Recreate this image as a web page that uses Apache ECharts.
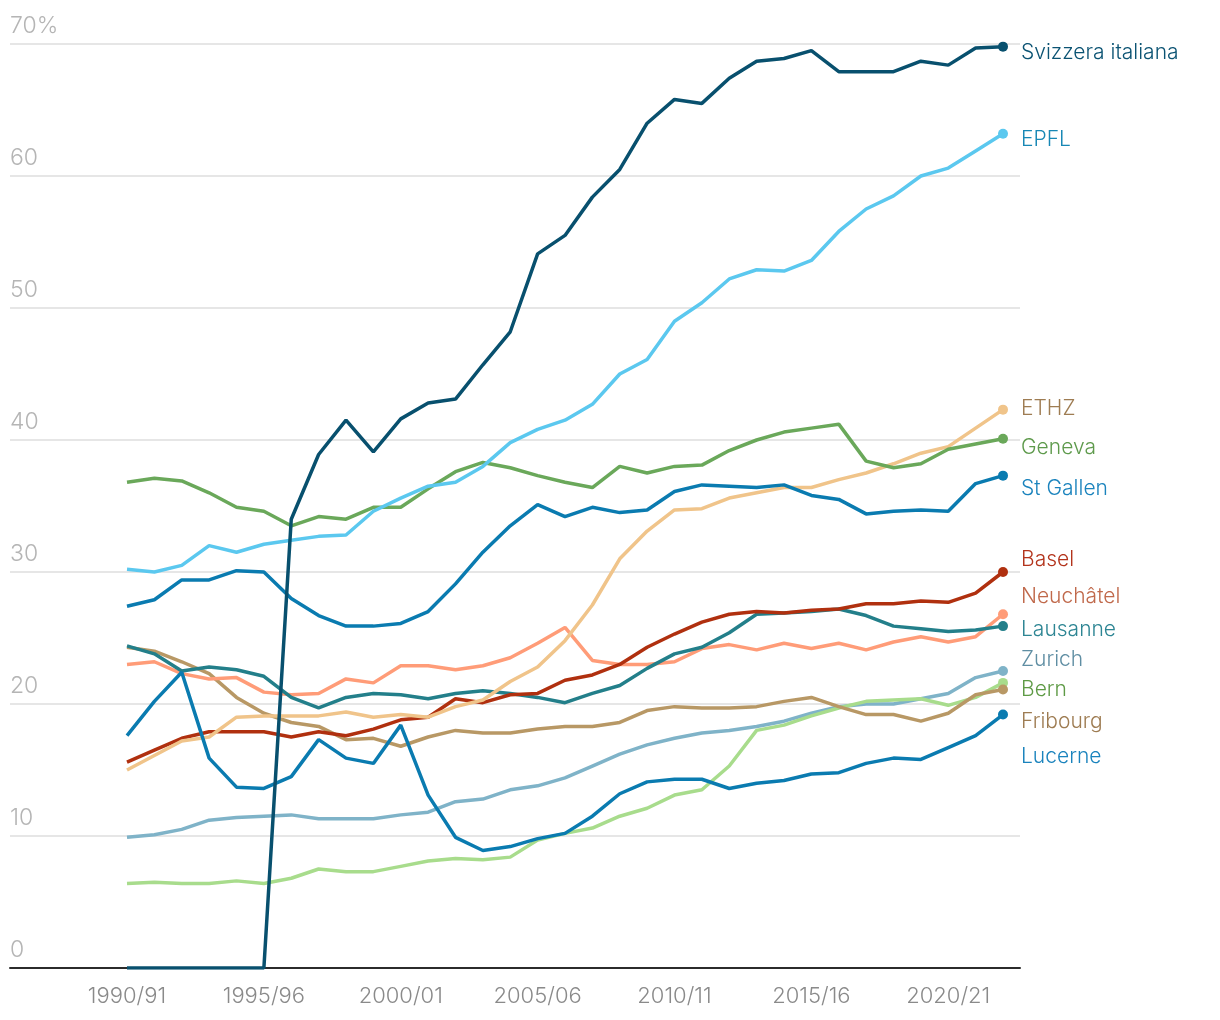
<!DOCTYPE html>
<html><head><meta charset="utf-8">
<script src="https://cdn.jsdelivr.net/npm/echarts@6/dist/echarts.min.js"></script>
<style>html,body{margin:0;padding:0;background:#fff}#c{width:1220px;height:1020px}</style>
</head><body><div id="c"></div>
<script>
const years = [];
for (let y = 1990; y <= 2022; y++) years.push(y);
const xTickYears = [1990, 1995, 2000, 2005, 2010, 2015, 2020];
const yTicks = [0, 10, 20, 30, 40, 50, 60, 70];

const svizzera = [0,0,0,0,0,0,34.0,38.9,41.5,39.1,41.6,42.8,43.1,45.7,48.2,54.1,55.5,58.4,60.5,64.0,65.8,65.5,67.4,68.7,68.9,69.5,67.9,67.9,67.9,68.7,68.4,69.7,69.8];
const epfl = [30.2,30.0,30.5,32.0,31.5,32.1,32.4,32.7,32.8,34.6,35.6,36.5,36.8,38.0,39.8,40.8,41.5,42.7,45.0,46.1,49.0,50.4,52.2,52.9,52.8,53.6,55.8,57.5,58.5,60.0,60.6,61.9,63.2];
const ethz = [15.0,16.1,17.2,17.5,19.0,19.1,19.1,19.1,19.4,19.0,19.2,19.0,19.8,20.3,21.7,22.8,24.8,27.5,31.0,33.1,34.7,34.8,35.6,36.0,36.4,36.4,37.0,37.5,38.2,39.0,39.5,40.9,42.3];
const geneva = [36.8,37.1,36.9,36.0,34.9,34.6,33.5,34.2,34.0,34.9,34.9,36.3,37.6,38.3,37.9,37.3,36.8,36.4,38.0,37.5,38.0,38.1,39.2,40.0,40.6,40.9,41.2,38.4,37.9,38.2,39.3,39.7,40.1];
const stGallen = [27.4,27.9,29.4,29.4,30.1,30.0,28.0,26.7,25.9,25.9,26.1,27.0,29.1,31.5,33.5,35.1,34.2,34.9,34.5,34.7,36.1,36.6,36.5,36.4,36.6,35.8,35.5,34.4,34.6,34.7,34.6,36.7,37.3];
const basel = [15.6,16.5,17.4,17.9,17.9,17.9,17.5,17.9,17.6,18.1,18.8,19.0,20.4,20.1,20.7,20.8,21.8,22.2,23.0,24.3,25.3,26.2,26.8,27.0,26.9,27.1,27.2,27.6,27.6,27.8,27.7,28.4,30.0];
const neuchatel = [23.0,23.2,22.3,21.9,22.0,20.9,20.7,20.8,21.9,21.6,22.9,22.9,22.6,22.9,23.5,24.6,25.8,23.3,23.0,23.0,23.2,24.2,24.5,24.1,24.6,24.2,24.6,24.1,24.7,25.1,24.7,25.1,26.8];
const lausanne = [24.4,23.8,22.5,22.8,22.6,22.1,20.5,19.7,20.5,20.8,20.7,20.4,20.8,21.0,20.8,20.5,20.1,20.8,21.4,22.7,23.8,24.3,25.4,26.8,26.9,27.0,27.2,26.7,25.9,25.7,25.5,25.6,25.9];
const zurich = [9.9,10.1,10.5,11.2,11.4,11.5,11.6,11.3,11.3,11.3,11.6,11.8,12.6,12.8,13.5,13.8,14.4,15.3,16.2,16.9,17.4,17.8,18.0,18.3,18.7,19.3,19.8,20.0,20.0,20.4,20.8,22.0,22.5];
const bern = [6.4,6.5,6.4,6.4,6.6,6.4,6.8,7.5,7.3,7.3,7.7,8.1,8.3,8.2,8.4,9.7,10.2,10.6,11.5,12.1,13.1,13.5,15.3,18.0,18.4,19.1,19.7,20.2,20.3,20.4,19.9,20.5,21.6];
const fribourg = [24.3,24.0,23.2,22.3,20.5,19.3,18.6,18.3,17.3,17.4,16.8,17.5,18.0,17.8,17.8,18.1,18.3,18.3,18.6,19.5,19.8,19.7,19.7,19.8,20.2,20.5,19.8,19.2,19.2,18.7,19.3,20.7,21.1];
const lucerne = [17.6,20.2,22.4,15.9,13.7,13.6,14.5,17.3,15.9,15.5,18.4,13.1,9.9,8.9,9.2,9.8,10.2,11.5,13.2,14.1,14.3,14.3,13.6,14.0,14.2,14.7,14.8,15.5,15.9,15.8,16.7,17.6,19.2];

const seriesDefs = [
  {name:'Zurich', data:zurich, color:'#7fb3c8', text:'#5f8ea3', dy:-11},
  {name:'Bern', data:bern, color:'#a8dc8c', text:'#5e9a45', dy:7},
  {name:'Fribourg', data:fribourg, color:'#b89865', text:'#9e7c52', dy:32},
  {name:'Neuchâtel', data:neuchatel, color:'#ff9c78', text:'#c0694b', dy:-18},
  {name:'Lausanne', data:lausanne, color:'#237f8a', text:'#2d8593', dy:4},
  {name:'Basel', data:basel, color:'#b0300f', text:'#b3341c', dy:-12},
  {name:'ETHZ', data:ethz, color:'#f0c48a', text:'#9e7c52', dy:-1},
  {name:'Geneva', data:geneva, color:'#6aa85a', text:'#5e9a4c', dy:9},
  {name:'St Gallen', data:stGallen, color:'#0a7bb0', text:'#1a83bd', dy:13},
  {name:'Lucerne', data:lucerne, color:'#0a7bb0', text:'#1a83bd', dy:42},
  {name:'EPFL', data:epfl, color:'#5bc8ef', text:'#1787b5', dy:6},
  {name:'Svizzera italiana', data:svizzera, color:'#08506e', text:'#0b5373', dy:6}
];

const FONT = 'Inter, "Noto Sans", sans-serif';
const chart = echarts.init(document.getElementById('c'), null, {renderer:'canvas'});
chart.setOption({
  animation: false,
  backgroundColor: '#fff',
  grid: {left: 10, right: 200, top: 44, bottom: 52, containLabel: false},
  xAxis: {
    type: 'value',
    min: 1985.726, max: 2022.621,
    splitLine: {show: false},
    axisTick: {show: false},
    axisLine: {show: true, onZero: false, lineStyle: {color: '#2b2b2b', width: 2}},
    axisLabel: {
      customValues: xTickYears,
      margin: 17,
      color: '#8a8a8a', fontSize: 22, fontFamily: FONT, fontWeight: 300,
      formatter: v => v + '/' + String((v + 1) % 100).padStart(2, '0')
    }
  },
  yAxis: {
    type: 'value', min: 0, max: 70, interval: 10,
    axisLine: {show: false}, axisTick: {show: false},
    splitLine: {show: true, lineStyle: {color: '#e6e6e6', width: 2}},
    axisLabel: {
      inside: true, margin: 0, align: 'left', verticalAlign: 'bottom',
      padding: [0, 0, 6, 0],
      color: '#b5b5b5', fontSize: 23, fontFamily: FONT, fontWeight: 300,
      formatter: v => v === 70 ? '70%' : String(v)
    }
  },
  series: seriesDefs.map(s => ({
    name: s.name,
    type: 'line',
    data: s.data.map((v, i) => [years[i], v]),
    color: s.color,
    lineStyle: {color: s.color, width: 3.5},
    itemStyle: {color: s.color},
    symbol: 'circle',
    showSymbol: true,
    showAllSymbol: true,
    symbolSize: (v, p) => p.dataIndex === s.data.length - 1 ? 10 : 0,
    emphasis: {disabled: true},
    endLabel: {
      show: true,
      formatter: s.name,
      color: s.text,
      fontSize: 21,
      fontFamily: FONT,
      fontWeight: 300,
      distance: 0,
      align: 'left',
      verticalAlign: 'middle',
      offset: [18, s.dy]
    }
  }))
});
</script>
</body></html>
